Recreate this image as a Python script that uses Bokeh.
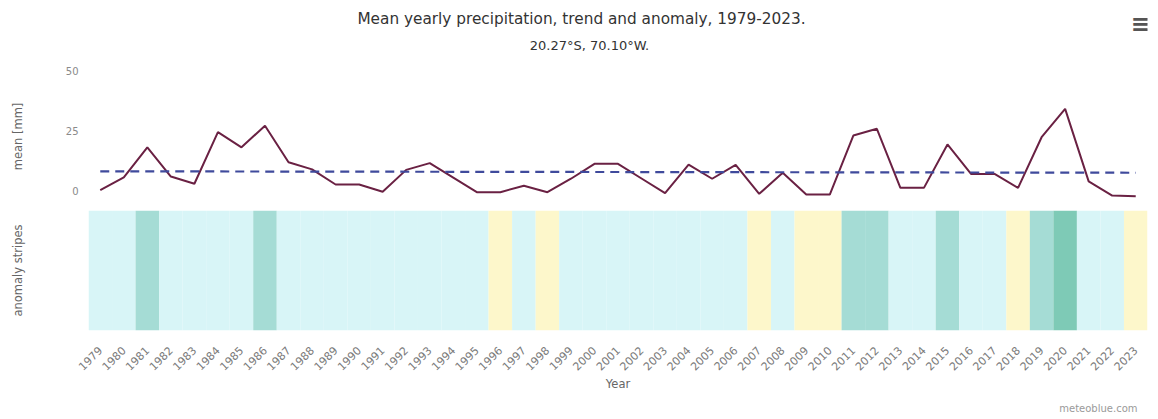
from bokeh.plotting import figure
from bokeh.models import (ColumnDataSource, FixedTicker, Label, LinearColorMapper, Range1d)
from bokeh.layouts import column
from bokeh.transform import transform
from bokeh.embed import file_html
from bokeh.resources import INLINE

# ---------------- data ----------------
years = [1979, 1980, 1981, 1982, 1983, 1984, 1985, 1986, 1987, 1988,
         1989, 1990, 1991, 1992, 1993, 1994, 1995, 1996, 1997, 1998,
         1999, 2000, 2001, 2002, 2003, 2004, 2005, 2006, 2007, 2008,
         2009, 2010, 2011, 2012, 2013, 2014, 2015, 2016, 2017, 2018,
         2019, 2020, 2021, 2022, 2023]
year_labels = [str(y) for y in years]

precip_mean = [0.2, 5.5, 18.0, 5.8, 2.8, 24.3, 18.0, 27.0, 11.8, 8.8,
               2.5, 2.5, -0.5, 8.6, 11.4, 5.4, -0.7, -0.7, 2.0, -0.7,
               4.9, 11.1, 11.1, 5.0, -1.1, 10.8, 4.9, 10.7, -1.4, 7.4,
               -1.7, -1.7, 22.9, 25.7, 1.1, 1.1, 19.2, 6.9, 6.9, 1.1,
               22.2, 34.0, 3.8, -2.1, -2.4]

trend_years = [1979, 2023]
trend_values = [8.0, 7.4]

stripe_anomaly = [2, 2, 15, 3, 3, 3, 3, 15, 1, 1,
                  1, 1, 1, 1, 1, 1, 1, -6, 1, -6,
                  1, 1, 1, 1, 1, 1, 1, 1, -6, 2,
                  -6, -6, 15, 15, 3, 3, 15, 3, 3, -6,
                  15, 25, 3, 3, -6]

stripe_palette = ["#fdf7cb", "#d8f5f7", "#a5dcd5", "#7ecab6"]

y_ticks = [0, 25, 50]

title_text = "Mean yearly precipitation, trend and anomaly, 1979-2023."
subtitle_text = "20.27\u00b0S, 70.10\u00b0W."
credit_text = "meteoblue.com"

FONT = "DejaVu Sans"
W = 1158
BL = 88   # left border (frame starts here)
BR = 11   # right border


def blank(height):
    # header / footer strip whose frame lines up with the charts below,
    # with a data range equal to page pixels
    f = figure(width=W, height=height, x_range=Range1d(BL, W - BR),
               y_range=Range1d(0, height),
               output_backend="svg", toolbar_location=None,
               x_axis_location=None, y_axis_location=None,
               min_border_left=BL, min_border_right=BR,
               min_border_top=0, min_border_bottom=0)
    f.outline_line_color = None
    f.grid.visible = False
    return f


# ---------------- header: title, subtitle, menu ----------------
hdr = blank(64)
hdr.add_layout(Label(x=581, y=46, text=title_text, text_align="center",
                     text_baseline="middle", text_font=FONT, text_font_size="15.3px",
                     text_color="#333333"))
hdr.add_layout(Label(x=589, y=19, text=subtitle_text, text_align="center",
                     text_baseline="middle", text_font=FONT, text_font_size="13px",
                     text_color="#333333"))
hdr.add_layout(Label(x=1140, y=41, text="\u2261", text_align="center",
                     text_baseline="middle", text_font=FONT, text_font_size="24px",
                     text_font_style="bold", text_color="#555555"))

x_range = Range1d(1978.5, 2023.5)

# ---------------- top: line + trend ----------------
p1 = figure(width=W, height=141, x_range=x_range, y_range=Range1d(-5, 50),
            output_backend="svg", toolbar_location=None, x_axis_location=None,
            min_border_left=BL, min_border_right=BR, min_border_top=6,
            min_border_bottom=3)
p1.outline_line_color = None
p1.grid.visible = False

src = ColumnDataSource(dict(x=years, y=precip_mean))
p1.line("x", "y", source=src, line_color="#6a2143", line_width=2)
p1.line(trend_years, trend_values, line_color="#3f4a9c", line_width=2.2,
        line_dash="9 6")

ya = p1.yaxis[0]
ya.ticker = FixedTicker(ticks=y_ticks)
ya.axis_line_color = None
ya.major_tick_line_color = None
ya.minor_tick_line_color = None
ya.major_tick_out = 0
ya.major_tick_in = 0
ya.major_label_standoff = 10
ya.major_label_text_font = FONT
ya.major_label_text_font_size = "10px"
ya.major_label_text_color = "#8a8a8a"
ya.axis_label = "mean [mm]"
ya.axis_label_text_font = FONT
ya.axis_label_text_font_size = "11.5px"
ya.axis_label_text_font_style = "normal"
ya.axis_label_text_color = "#666666"
ya.axis_label_standoff = 38

# ---------------- bottom: anomaly stripes ----------------
p2 = figure(width=W, height=190, x_range=x_range, y_range=Range1d(0, 1),
            output_backend="svg", toolbar_location=None,
            min_border_left=BL, min_border_right=BR, min_border_top=5,
            min_border_bottom=65)
p2.outline_line_color = None
p2.grid.visible = False

mapper = LinearColorMapper(palette=stripe_palette, low=-10, high=30)
ssrc = ColumnDataSource(dict(x=years, a=stripe_anomaly))
p2.vbar(x="x", width=1, bottom=0, top=1, source=ssrc,
        fill_color=transform("a", mapper), line_color=None)

xa = p2.xaxis[0]
xa.ticker = FixedTicker(ticks=years)
xa.major_label_overrides = {y: s for y, s in zip(years, year_labels)}
xa.major_label_orientation = 0.785398
xa.axis_line_color = None
xa.major_tick_line_color = None
xa.minor_tick_line_color = None
xa.major_tick_out = 0
xa.major_tick_in = 0
xa.major_label_standoff = 18
xa.major_label_text_font = FONT
xa.major_label_text_font_size = "11px"
xa.major_label_text_color = "#7a7a7a"
xa.axis_label = "Year"
xa.axis_label_text_font = FONT
xa.axis_label_text_font_size = "11.5px"
xa.axis_label_text_font_style = "normal"
xa.axis_label_text_color = "#666666"
xa.axis_label_standoff = 0

ya2 = p2.yaxis[0]
ya2.ticker = FixedTicker(ticks=[])
ya2.axis_line_color = None
ya2.major_tick_line_color = None
ya2.minor_tick_line_color = None
ya2.major_tick_out = 0
ya2.major_tick_in = 0
ya2.major_label_standoff = 0
ya2.axis_label = "anomaly stripes"
ya2.axis_label_text_font = FONT
ya2.axis_label_text_font_size = "11.5px"
ya2.axis_label_text_font_style = "normal"
ya2.axis_label_text_color = "#666666"
ya2.axis_label_standoff = 64

# ---------------- footer: credit ----------------
ftr = blank(23)
ftr.add_layout(Label(x=1137, y=10, text=credit_text, text_align="right",
                     text_baseline="middle", text_font=FONT, text_font_size="10px",
                     text_color="#9a9a9a"))

layout = column(hdr, p1, p2, ftr, spacing=0)
open("out.html", "w").write(file_html(layout, INLINE))
